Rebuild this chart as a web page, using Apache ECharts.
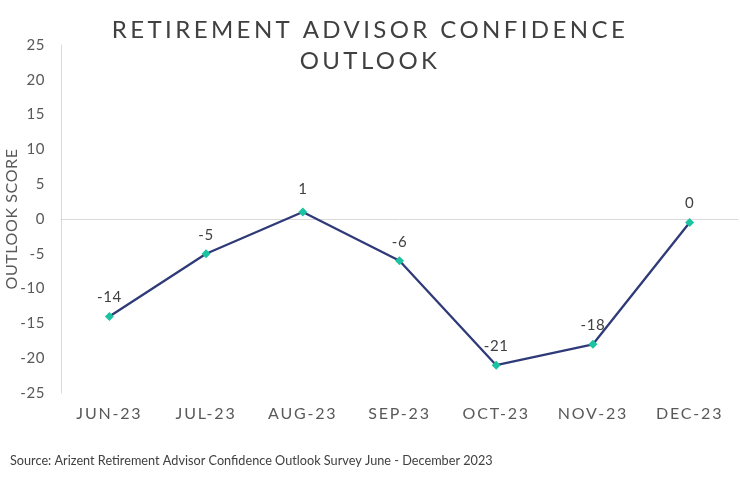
<!DOCTYPE html>
<html>
<head>
<meta charset="utf-8">
<script src="https://cdn.jsdelivr.net/npm/echarts@6/dist/echarts.min.js"></script>
<style>
  html, body { margin: 0; padding: 0; background: #fff; }
  #chart { width: 740px; height: 502px; }
</style>
</head>
<body>
<div id="chart"></div>
<script>
// chart data
const months = ['JUN-23', 'JUL-23', 'AUG-23', 'SEP-23', 'OCT-23', 'NOV-23', 'DEC-23']
const scores = [-14, -5, 1, -6, -21, -18, -0.5]
const yTicks = [-25, 25, 5]   // min, max, step

const titleLines = ['RETIREMENT ADVISOR CONFIDENCE', 'OUTLOOK']

// the original uses tracked-out caps for the title and month labels,
// canvas has letterSpacing so set it just for those strings
const spacing = {}
titleLines.forEach(function (t) { spacing[t] = '3.4px' })
months.forEach(function (m) { spacing[m] = '1.8px' })
spacing['OUTLOOK SCORE'] = '0.6px'

const origFillText = CanvasRenderingContext2D.prototype.fillText
CanvasRenderingContext2D.prototype.fillText = function (text, x, y, maxW) {
  const ls = spacing[text]
  if (ls) {
    const old = this.letterSpacing
    this.letterSpacing = ls
    origFillText.call(this, text, x, y)
    this.letterSpacing = old
    return
  }
  if (maxW === undefined) return origFillText.call(this, text, x, y)
  return origFillText.call(this, text, x, y, maxW)
}

const chart = echarts.init(document.getElementById('chart'))

const seriesData = scores.map(function (v, i) {
  if (months[i] === 'AUG-23') {
    // the Aug label sits a little higher with a short guide line
    return {
      value: v,
      label: { offset: [0, -4] },
      labelLine: { show: true, lineStyle: { color: '#a6a6a6', width: 1 } }
    }
  }
  return v
})

chart.setOption({
  animation: false,
  textStyle: { fontFamily: 'Lato' },
  title: {
    text: titleLines.join('\n'),
    left: 'center',
    top: 10,
    textStyle: {
      fontFamily: 'Lato',
      fontSize: 24,
      fontWeight: 'normal',
      color: '#404040',
      lineHeight: 31
    }
  },
  grid: { left: 61, right: 2, top: 45, bottom: 109, outerBoundsMode: 'none' },
  xAxis: {
    type: 'category',
    data: months,
    boundaryGap: true,
    axisLine: { onZero: true, lineStyle: { color: '#d9d9d9', width: 1 } },
    axisTick: { show: false },
    axisLabel: {
      interval: 0,
      fontSize: 16,
      color: '#595959',
      margin: 13
    }
  },
  yAxis: {
    type: 'value',
    min: yTicks[0],
    max: yTicks[1],
    interval: yTicks[2],
    name: 'OUTLOOK SCORE',
    nameLocation: 'middle',
    nameGap: 41,
    nameMoveOverlap: false,
    nameTextStyle: { fontSize: 16, color: '#595959' },
    axisLine: { show: true, lineStyle: { color: '#d9d9d9' } },
    axisTick: { show: false },
    splitLine: { show: false },
    axisLabel: { fontSize: 15, color: '#595959', margin: 16 }
  },
  series: [{
    type: 'line',
    data: seriesData,
    symbol: 'diamond',
    symbolSize: 9,
    itemStyle: { color: '#1cc3a0' },
    lineStyle: { color: '#2f3a78', width: 2.3 },
    label: {
      show: true,
      position: 'top',
      distance: 7,
      fontSize: 15,
      color: '#404040',
      formatter: function (p) { return String(Math.round(p.value)) }
    }
  }],
  graphic: [{
    type: 'text',
    left: 10,
    top: 454,
    style: {
      text: 'Source: Arizent Retirement Advisor Confidence Outlook Survey June - December 2023',
      fontFamily: 'Lato',
      fontSize: 12.7,
      fill: '#404040'
    }
  }]
})
</script>
</body>
</html>
